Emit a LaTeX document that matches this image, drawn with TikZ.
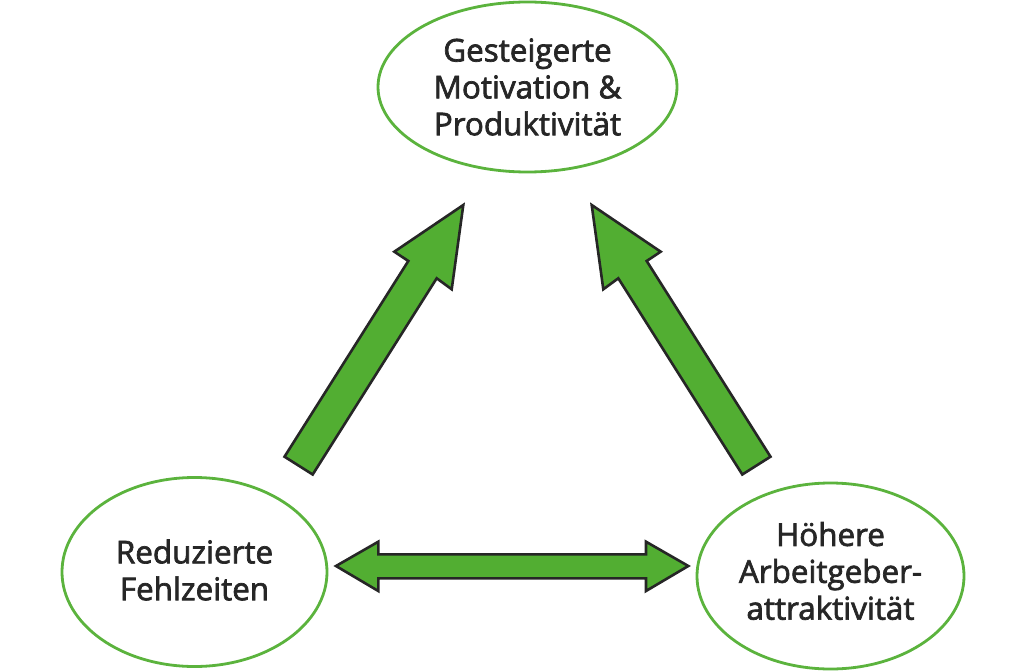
\documentclass[tikz,border=0pt]{standalone}
\usepackage{fontspec}
\setmainfont{Open Sans}
\newfontfamily\semifont{Open Sans}[FakeBold=2.2]
\definecolor{ellgreen}{HTML}{5BB33D}
\definecolor{arrgreen}{HTML}{52AE32}
\definecolor{arredge}{HTML}{262626}
\definecolor{txt}{HTML}{262626}
\begin{document}
\begin{tikzpicture}[x=1bp,y=-1bp,
  lbl/.style={align=center,text=txt,font=\semifont\fontsize{31.5}{37}\selectfont},
  blockarrow/.style={fill=arrgreen,draw=arredge,line width=2.6bp,line join=miter}]
\useasboundingbox (0,0) rectangle (1024,671);
% ellipses
\draw[draw=ellgreen,line width=2.8bp] (527.5,87) ellipse [x radius=149.5,y radius=85];
\draw[draw=ellgreen,line width=2.8bp] (194.5,572) ellipse [x radius=132.5,y radius=94.5];
\draw[draw=ellgreen,line width=2.8bp] (830.5,576) ellipse [x radius=133.5,y radius=93];
\node[lbl] (top) at (527.5,87) {Gesteigerte\\Motivation \&\\Produktivität};
\node[lbl] (left) at (194.5,570) {Reduzierte\\Fehlzeiten};
\node[lbl] (right) at (830.5,571) {Höhere\\Arbeitgeber-\\attraktivität};
% left arrow
\draw[blockarrow] (463.3,205) -- (451.7,289.3) -- (436.7,278.3) -- (312.7,474.5)
  -- (284.5,456.7) -- (408.3,261) -- (394.3,251.7) -- cycle;
% right arrow (mirror)
\draw[blockarrow] (591.7,205) -- (603.3,289.3) -- (618.3,278.3) -- (742.3,474.5)
  -- (770.5,456.7) -- (646.7,261) -- (660.7,251.7) -- cycle;
% double arrow
\draw[blockarrow] (336,566) -- (378.3,541.7) -- (378.3,554.3) -- (646,554.3) -- (646,541.7)
  -- (688.3,566) -- (646,591) -- (646,578.3) -- (378.3,578.3) -- (378.3,591) -- cycle;
\end{tikzpicture}
\end{document}
